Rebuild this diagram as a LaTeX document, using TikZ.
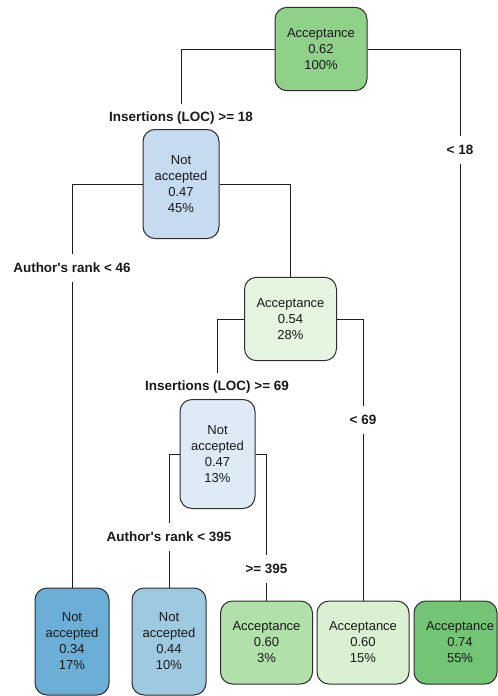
\documentclass[tikz,border=0pt]{standalone}
\usepackage{fontspec}
\setmainfont{Liberation Sans}
\definecolor{textc}{RGB}{25,25,25}
\definecolor{boxline}{RGB}{45,45,45}
\definecolor{connc}{RGB}{30,30,30}
\definecolor{cRoot}{RGB}{143,209,137}
\definecolor{cN2}{RGB}{198,219,239}
\definecolor{cN3}{RGB}{229,245,224}
\definecolor{cN4}{RGB}{222,235,247}
\definecolor{cA}{RGB}{107,174,214}
\definecolor{cB}{RGB}{158,202,225}
\definecolor{cC}{RGB}{178,224,171}
\definecolor{cD}{RGB}{217,240,211}
\definecolor{cE}{RGB}{116,196,118}
\begin{document}
\begin{tikzpicture}[x=0.75pt,y=-0.75pt,
  every node/.style={font=\fontsize{9.75}{12}\selectfont, text=textc},
  box/.style={draw=boxline, line width=0.75pt, rounded corners=9pt, align=center, inner sep=0pt},
  big/.style={box, minimum width=69pt, minimum height=62.5pt},
  tall/.style={box, minimum width=57pt, minimum height=81.75pt},
  low/.style={box, minimum width=55.5pt, minimum height=80.25pt},
  cond/.style={font=\fontsize{10.1}{12}\selectfont\bfseries, minimum height=21pt, inner sep=1pt},
  conn/.style={draw=connc, line width=0.75pt}]
\useasboundingbox (0,0) rectangle (498,696);
% nodes
\node[big, fill=cRoot] (root) at (321,49) {Acceptance\\0.62\\100\%};
\node[cond] (c18) at (181,118) {Insertions (LOC) >= 18};
\node[tall, fill=cN2] (n2) at (181,184) {Not\\accepted\\0.47\\45\%};
\node[cond] (lt18) at (460,150) {< 18};
\node[cond] (r46) at (72,268) {Author\textquotesingle s rank < 46};
\node[big, fill=cN3] (n3) at (290.5,319) {Acceptance\\0.54\\28\%};
\node[cond] (c69) at (217,387) {Insertions (LOC) >= 69};
\node[cond] (lt69) at (363,420) {< 69};
\node[tall, minimum width=56.25pt, fill=cN4] (n4) at (217.5,454) {Not\\accepted\\0.47\\13\%};
\node[cond] (r395) at (169,537) {Author\textquotesingle s rank < 395};
\node[cond] (ge395) at (266.5,569) {>= 395};
\node[low, fill=cA] (A) at (72,641.5) {Not\\accepted\\0.34\\17\%};
\node[low, fill=cB] (B) at (169,641.5) {Not\\accepted\\0.44\\10\%};
\node[big, minimum height=62.25pt, fill=cC] (C) at (266.5,642.5) {Acceptance\\0.60\\3\%};
\node[big, minimum height=62.25pt, fill=cD] (D) at (363,642.5) {Acceptance\\0.60\\15\%};
\node[box, minimum width=62.25pt, minimum height=62.25pt, fill=cE,
      label={[align=center, xshift=3.4pt]center:{Acceptance\\0.74\\55\%}}] (E) at (455.5,642.5) {};
% connectors
\draw[conn] (root.west) -| (c18.north);
\draw[conn] (root.east) -| (lt18.north);
\draw[conn] (lt18.south) -- (lt18.south |- E.north);
\draw[conn] (n2.west) -| (r46.north);
\draw[conn] (r46.south) -- (A.north);
\draw[conn] (n2.east) -| (n3.north);
\draw[conn] (n3.west) -| (c69.north);
\draw[conn] (n3.east) -| (lt69.north);
\draw[conn] (lt69.south) -- (D.north);
\draw[conn] (n4.west) -| (r395.north);
\draw[conn] (r395.south) -- (B.north);
\draw[conn] (n4.east) -| (ge395.north);
\draw[conn] (ge395.south) -- (C.north);
\end{tikzpicture}
\end{document}
